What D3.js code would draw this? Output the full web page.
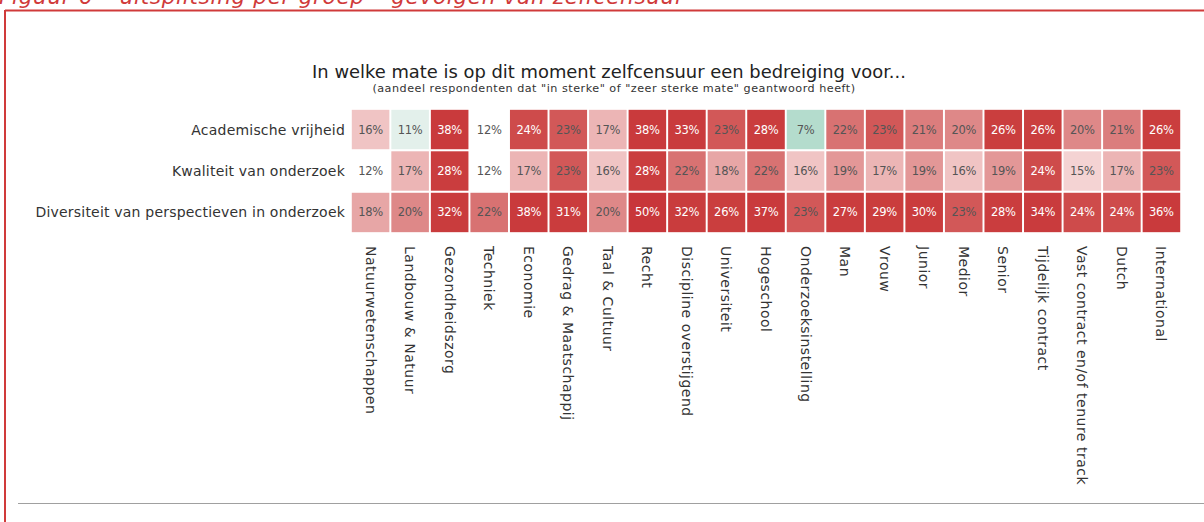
<!DOCTYPE html>
<html><head><meta charset="utf-8">
<script src="https://cdn.jsdelivr.net/npm/d3@7"></script>
<style>
html,body{margin:0;padding:0;background:#fff;}
svg{display:block;}
</style></head>
<body>
<svg id="chart" width="1204" height="522"></svg>
<script>
const caption = "Figuur 6 – uitsplitsing per groep – gevolgen van zelfcensuur";
const title = "In welke mate is op dit moment zelfcensuur een bedreiging voor...";
const subtitle = "(aandeel respondenten dat \"in sterke\" of \"zeer sterke mate\" geantwoord heeft)";
const categories = ["Natuurwetenschappen","Landbouw & Natuur","Gezondheidszorg","Techniek","Economie","Gedrag & Maatschappij","Taal & Cultuur","Recht","Discipline overstijgend","Universiteit","Hogeschool","Onderzoeksinstelling","Man","Vrouw","Junior","Medior","Senior","Tijdelijk contract","Vast contract en/of tenure track","Dutch","International"];
const rows = ["Academische vrijheid","Kwaliteit van onderzoek","Diversiteit van perspectieven in onderzoek"];
const academischeVrijheid = [16,11,38,12,24,23,17,38,33,23,28,7,22,23,21,20,26,26,20,21,26];
const kwaliteitOnderzoek = [12,17,28,12,17,23,16,28,22,18,22,16,19,17,19,16,19,24,15,17,23];
const diversiteitPerspectieven = [18,20,32,22,38,31,20,50,32,26,37,23,27,29,30,23,28,34,24,24,36];
const series = [academischeVrijheid, kwaliteitOnderzoek, diversiteitPerspectieven];

const FONT = "'DejaVu Sans', sans-serif";
const svg = d3.select("#chart");

// frame
svg.append("line").attr("x1",5).attr("x2",1204).attr("y1",10.5).attr("y2",10.5).attr("stroke","#d03a3a").attr("stroke-width",2);
svg.append("line").attr("x1",5).attr("x2",5).attr("y1",10).attr("y2",522).attr("stroke","#d03a3a").attr("stroke-width",2);
svg.append("line").attr("x1",18).attr("x2",1204).attr("y1",503.5).attr("y2",503.5).attr("stroke","#a0a0a0").attr("stroke-width",1.2);

svg.append("text").attr("x",-1).attr("y",4).attr("fill","#d03a3a").attr("font-style","italic")
  .attr("font-family",FONT).attr("font-size",21.5).attr("letter-spacing",0.7).text(caption);

svg.append("text").attr("x",609).attr("y",78).attr("text-anchor","middle").attr("fill","#222")
  .attr("font-family",FONT).attr("font-size",17.9).text(title);
svg.append("text").attr("x",614).attr("y",92).attr("text-anchor","middle").attr("fill","#333")
  .attr("font-family",FONT).attr("font-size",11.2).attr("letter-spacing",0.5).text(subtitle);

const x = d3.scaleBand().domain(categories).range([351,1181]).paddingInner(0.05).paddingOuter(0.02);
const y = d3.scaleBand().domain(rows).range([109,233]).paddingInner(0.05).paddingOuter(0.02);

const color = d3.scaleLinear()
  .domain([7,11,12,16,20,22,23,25,50])
  .range(["#b4dccd","#e3f0eb","#ffffff","#f0c4c4","#de8888","#d87272","#d25858","#ca3e3e","#c8363a"])
  .clamp(true);

const cells = [];
series.forEach((vals,i)=>vals.forEach((v,j)=>cells.push({row:rows[i],cat:categories[j],v})));

const g = svg.append("g");
g.selectAll("rect").data(cells).join("rect")
  .attr("x",d=>x(d.cat)).attr("y",d=>y(d.row))
  .attr("width",x.bandwidth()).attr("height",y.bandwidth())
  .attr("fill",d=>color(d.v));
g.selectAll("text.v").data(cells).join("text").attr("class","v")
  .attr("x",d=>x(d.cat)+x.bandwidth()/2).attr("y",d=>y(d.row)+y.bandwidth()/2)
  .attr("text-anchor","middle").attr("dominant-baseline","central")
  .attr("font-family",FONT).attr("font-size",11.5).attr("letter-spacing",-0.3)
  .attr("fill",d=>d.v>=23.5?"#ffffff":"#555555")
  .text(d=>d.v+"%");

// row labels
svg.append("g").selectAll("text").data(rows).join("text")
  .attr("x",345).attr("y",d=>y(d)+y.bandwidth()/2).attr("text-anchor","end").attr("dominant-baseline","central")
  .attr("font-family",FONT).attr("font-size",14).attr("letter-spacing",0.2).attr("fill","#333").text(d=>d);

// column labels
svg.append("g").selectAll("text").data(categories).join("text")
  .attr("transform",d=>`translate(${x(d)+x.bandwidth()/2},246) rotate(90)`)
  .attr("text-anchor","start").attr("dominant-baseline","central")
  .attr("font-family",FONT).attr("font-size",14).attr("letter-spacing",0.5).attr("fill","#333").text(d=>d);
</script>
</body></html>
